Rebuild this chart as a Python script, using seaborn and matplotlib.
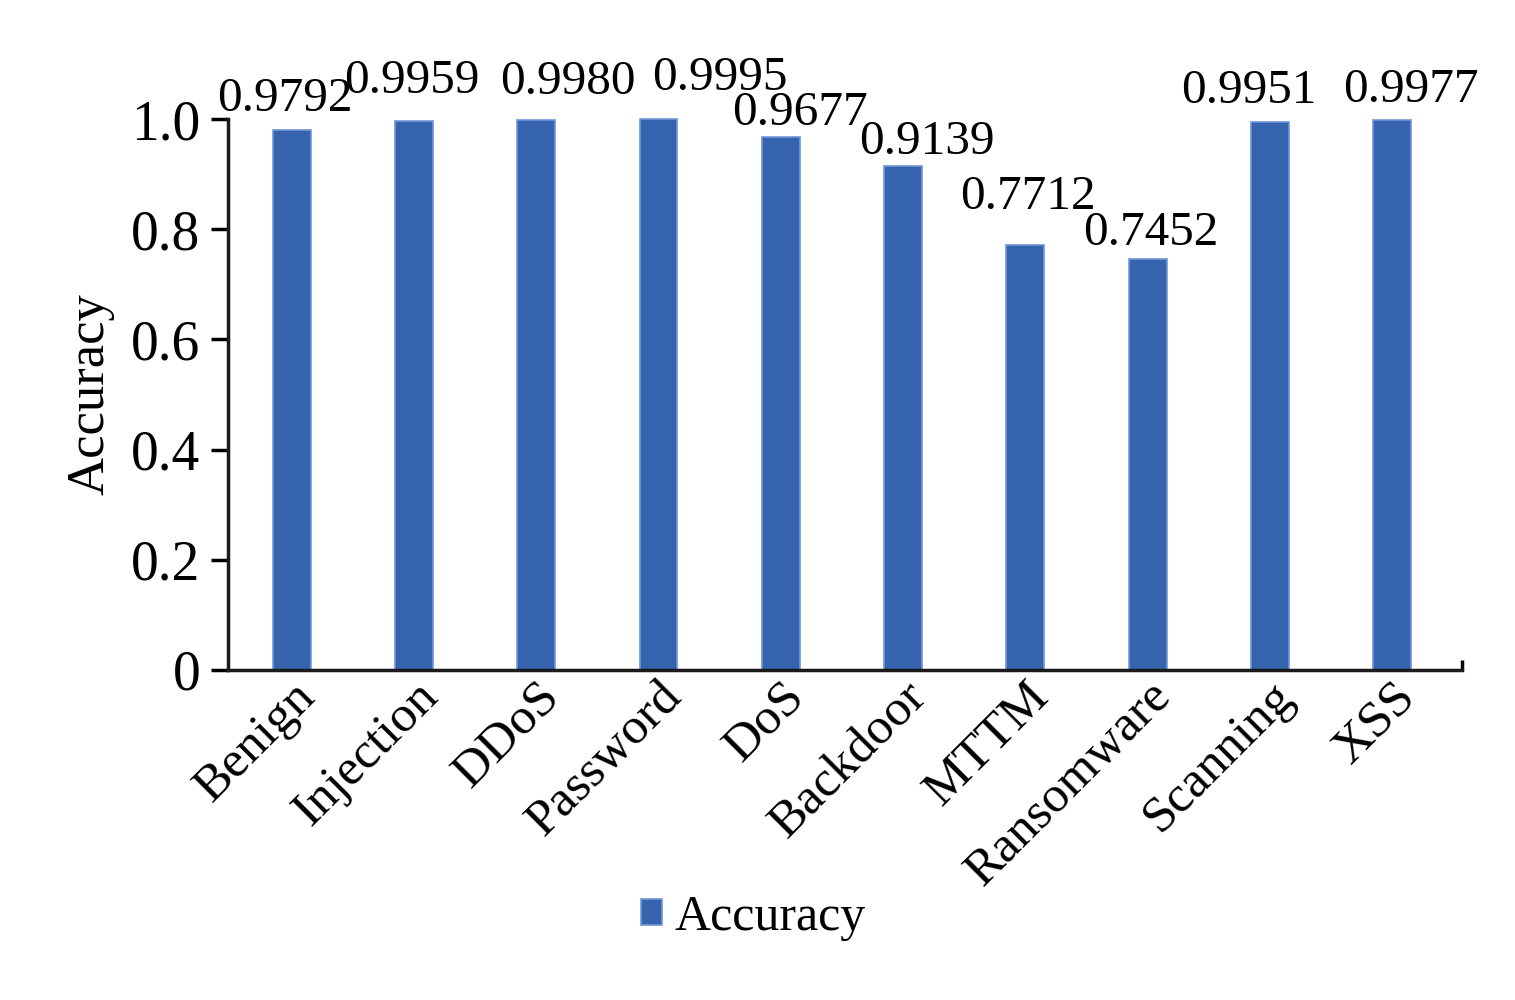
import pandas as pd
import matplotlib
matplotlib.use("Agg")
import matplotlib.pyplot as plt
import seaborn as sns
from matplotlib.ticker import FixedLocator

# data
categories = ["Benign", "Injection", "DDoS", "Password", "DoS", "Backdoor",
              "MTTM", "Ransomware", "Scanning", "XSS"]
accuracy = [0.9792, 0.9959, 0.9980, 0.9995, 0.9677, 0.9139,
            0.7712, 0.7452, 0.9951, 0.9977]
value_labels = ["0.9792", "0.9959", "0.9980", "0.9995", "0.9677", "0.9139",
                "0.7712", "0.7452", "0.9951", "0.9977"]

# label nudges (pixels) so the numbers sit like in the original
label_dx = [-7, -2, 32, 61, 19, 24, 3, 3, -21, 19]
label_dy = [31, 40, 38, 41, 24, 24, 48, 26, 31, 30]

df = pd.DataFrame({"Category": categories, "Accuracy": accuracy})

sns.set_style("ticks")
plt.rcParams["font.family"] = ["Liberation Serif", "DejaVu Serif"]
plt.rcParams["text.color"] = "black"
plt.rcParams["axes.labelcolor"] = "black"
plt.rcParams["xtick.color"] = "black"
plt.rcParams["ytick.color"] = "black"

fig = plt.figure(figsize=(15.15, 10), dpi=100)
ax = fig.add_axes([0.1505, 0.33, 0.8145, 0.551])

bar_color = "#3563ad"
sns.barplot(data=df, x="Category", y="Accuracy", color=bar_color, width=0.31,
            saturation=1, edgecolor="#6f96d6", linewidth=1.2,
            label="Accuracy", ax=ax)
for p in ax.patches:
    p.set_clip_on(False)

ax.set_ylim(0, 1.0)
ax.set_xlim(-0.52, len(categories) - 0.43)
ax.set_yticks([0, 0.2, 0.4, 0.6, 0.8, 1.0])
ax.set_yticklabels(["0", "0.2", "0.4", "0.6", "0.8", "1.0"])
ax.tick_params(axis="y", labelsize=40, length=12, width=2.5, pad=8)
ax.tick_params(axis="x", which="major", length=0, labelsize=37, pad=2)
ax.xaxis.set_minor_locator(FixedLocator([len(categories) - 0.43]))
ax.tick_params(axis="x", which="minor", direction="in", length=7, width=2.5)
plt.setp(ax.get_xticklabels(), rotation=45, ha="right", rotation_mode="anchor")

ax.set_xlabel("")
ax.set_ylabel("Accuracy", fontsize=38, labelpad=12)
sns.despine(ax=ax)
for s in ["left", "bottom"]:
    ax.spines[s].set_linewidth(2.5)
    ax.spines[s].set_color("#1a1a1a")

for i, (v, txt) in enumerate(zip(accuracy, value_labels)):
    ax.annotate(txt, xy=(i, v), xytext=(label_dx[i], label_dy[i]),
                textcoords="offset pixels", ha="center", va="center",
                fontsize=35.5, annotation_clip=False)

handles, labels = ax.get_legend_handles_labels()
if ax.legend_:
    ax.legend_.remove()
fig.legend(handles[:1], ["Accuracy"], loc="center", bbox_to_anchor=(0.497, 0.082),
           frameon=False, fontsize=36, handlelength=0.42, handleheight=0.42,
           handletextpad=0.25)

fig.savefig("out.png", dpi=100, facecolor="white")
